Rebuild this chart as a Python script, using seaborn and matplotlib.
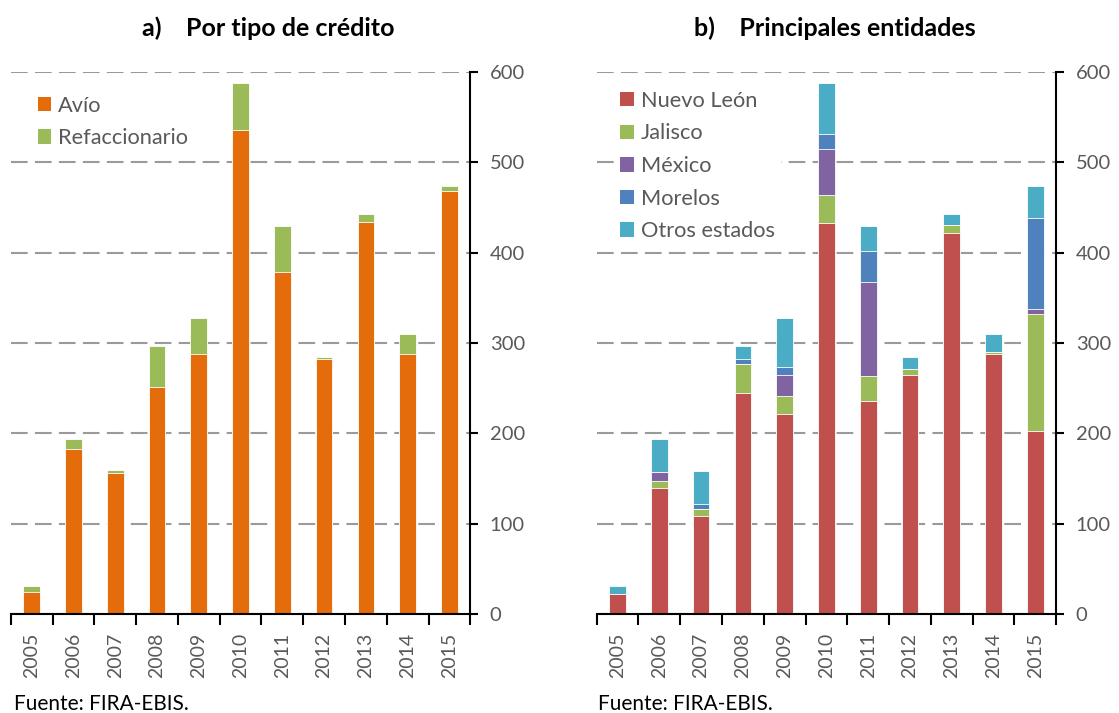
import matplotlib
matplotlib.use("Agg")
import matplotlib.pyplot as plt
from matplotlib.patches import Patch
from matplotlib.ticker import FixedLocator, NullFormatter
import seaborn as sns
import numpy as np

years = ["2005", "2006", "2007", "2008", "2009", "2010", "2011", "2012", "2013", "2014", "2015"]

# a) Por tipo de crédito
avio = [25, 183, 156, 251, 288, 536, 378, 282, 434, 288, 468]
refaccionario = [6, 11, 4, 46, 40, 52, 51, 3, 9, 22, 6]

# b) Principales entidades
nuevo_leon = [22, 140, 109, 245, 222, 433, 236, 265, 422, 288, 203]
jalisco = [0, 7, 7, 32, 19, 31, 27, 6, 8, 2, 129]
mexico = [0, 10, 0, 0, 24, 50, 105, 0, 0, 0, 6]
morelos = [0, 0, 6, 5, 8, 17, 34, 0, 0, 0, 100]
otros = [9, 37, 37, 15, 55, 57, 27, 14, 13, 20, 36]

left_labels = ["Avío", "Refaccionario"]
left_colors = ["#E46C0A", "#9BBB59"]
right_labels = ["Nuevo León", "Jalisco", "México", "Morelos", "Otros estados"]
right_colors = ["#C0504D", "#9BBB59", "#8064A2", "#4F81BD", "#4BACC6"]

sns.set_style("white")
plt.rcParams["font.family"] = ["Lato", "DejaVu Sans"]

GRAY = "#595959"

fig = plt.figure(figsize=(11.19, 7.13), dpi=100)
ax1 = fig.add_axes([0.0096, 0.1384, 0.4107, 0.761])
ax2 = fig.add_axes([0.5332, 0.1384, 0.4107, 0.761])


def stacked(ax, series, colors):
    # draw cumulative totals from top to bottom so each layer sits on the one below
    cum = np.cumsum(np.array(series), axis=0)
    for i in range(len(series) - 1, -1, -1):
        sns.barplot(x=years, y=cum[i], color=colors[i], width=0.4, ax=ax,
                    edgecolor="white", linewidth=0.6, saturation=1, zorder=3)


def style_axis(ax):
    ax.set_xlim(-0.5, 10.5)
    ax.set_ylim(0, 600)
    ax.set_xlabel("")
    ax.set_ylabel("")
    ax.yaxis.tick_right()
    ax.set_yticks([0, 100, 200, 300, 400, 500, 600])
    ax.tick_params(axis="y", which="major", right=True, left=False, length=6, width=1.5,
                   direction="out", color="black", pad=8, labelsize=14.5, labelcolor=GRAY)
    ax.set_xticks(range(len(years)))
    ax.set_xticklabels(years, rotation=90)
    ax.tick_params(axis="x", which="major", length=0, pad=13, labelsize=14, labelcolor=GRAY)
    ax.xaxis.set_minor_locator(FixedLocator(np.arange(-0.5, 11, 1)))
    ax.xaxis.set_minor_formatter(NullFormatter())
    ax.tick_params(axis="x", which="minor", bottom=True, length=8, width=1.5,
                   direction="out", color="black")
    for side in ["left", "top"]:
        ax.spines[side].set_visible(False)
    for side in ["right", "bottom"]:
        ax.spines[side].set_color("black")
        ax.spines[side].set_linewidth(1.5)
        ax.spines[side].set_zorder(5)
    ax.set_axisbelow(True)
    ax.yaxis.grid(True, linestyle=(0, (8, 3.5)), color="#9a9a9a", linewidth=1.5)
    ax.xaxis.grid(False)


legend_kw = dict(loc="upper left", borderaxespad=0, borderpad=0.3, frameon=True,
                 framealpha=1, facecolor="white", edgecolor="none", fontsize=15.7,
                 handlelength=0.64, handleheight=0.64, handletextpad=0.3,
                 labelspacing=0.58, labelcolor=GRAY)

stacked(ax1, [avio, refaccionario], left_colors)
style_axis(ax1)
h1 = [Patch(facecolor=c, edgecolor="none") for c in left_colors]
leg1 = ax1.legend(h1, left_labels, bbox_to_anchor=(0.044, 0.968), **legend_kw)
leg1.set_zorder(4)

stacked(ax2, [nuevo_leon, jalisco, mexico, morelos, otros], right_colors)
style_axis(ax2)
h2 = [Patch(facecolor=c, edgecolor="none") for c in right_colors]
leg2 = ax2.legend(h2, right_labels, bbox_to_anchor=(0.037, 0.977), **legend_kw)
leg2.set_zorder(4)

fig.text(268.5 / 1119, 1 - 28 / 713, "a)    Por tipo de crédito", ha="center", va="center",
         fontsize=18, fontweight="bold", color="black")
fig.text(835 / 1119, 1 - 28 / 713, "b)    Principales entidades", ha="center", va="center",
         fontsize=18, fontweight="bold", color="black")
fig.text(14 / 1119, 1 - 704 / 713, "Fuente: FIRA-EBIS.", ha="left", va="center",
         fontsize=15, color="black")
fig.text(598 / 1119, 1 - 704 / 713, "Fuente: FIRA-EBIS.", ha="left", va="center",
         fontsize=15, color="black")

fig.savefig("out.png", dpi=100)
